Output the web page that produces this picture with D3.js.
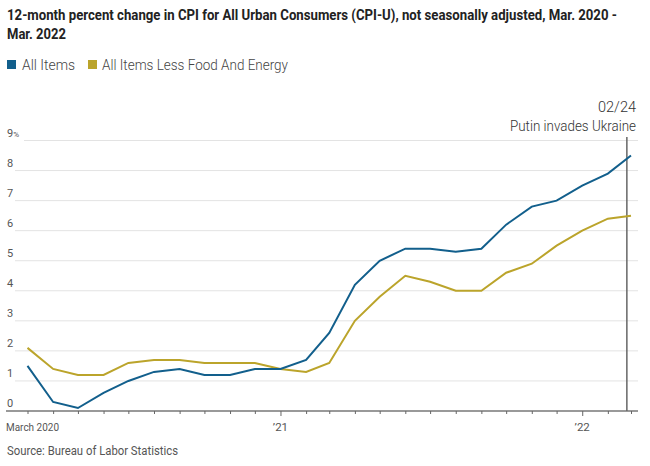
<!DOCTYPE html>
<html><head><meta charset="utf-8">
<script src="https://cdn.jsdelivr.net/npm/d3@7"></script>
<style>
body{margin:0;background:#fff;}
svg{display:block;font-family:"Roboto","Liberation Sans",sans-serif;}
</style></head>
<body><svg id="c" width="650" height="466"></svg>
<script>
const months = ["2020-03","2020-04","2020-05","2020-06","2020-07","2020-08","2020-09","2020-10","2020-11","2020-12",
"2021-01","2021-02","2021-03","2021-04","2021-05","2021-06","2021-07","2021-08","2021-09","2021-10","2021-11","2021-12",
"2022-01","2022-02","2022-03"];
const allItems = [1.5,0.3,0.1,0.6,1.0,1.3,1.4,1.2,1.2,1.4,1.4,1.7,2.6,4.2,5.0,5.4,5.4,5.3,5.4,6.2,6.8,7.0,7.5,7.9,8.5];
const coreItems = [2.1,1.4,1.2,1.2,1.6,1.7,1.7,1.6,1.6,1.6,1.4,1.3,1.6,3.0,3.8,4.5,4.3,4.0,4.0,4.6,4.9,5.5,6.0,6.4,6.5];
const yTicks = [0,1,2,3,4,5,6,7,8,9];
const xLabels = [{m:"2020-03",t:"March 2020"},{m:"2021-01",t:"\u201921"},{m:"2022-01",t:"\u201922"}];
const seriesNames = ["All Items","All Items Less Food And Energy"];
const eventDate = "2022-02-24";
const eventLabel = ["02/24","Putin invades Ukraine"];

const parse = d3.timeParse("%Y-%m");
const dates = months.map(parse);
const svg = d3.select("#c");
const blue = "#125f8c", gold = "#bba42b";

const x = d3.scaleTime().domain([dates[0], dates[dates.length-1]]).range([27.5, 631]);
const y = d3.scaleLinear().domain([0,9]).range([411,140.5]);

function fit(sel, w){ sel.attr("textLength", w).attr("lengthAdjust","spacingAndGlyphs"); return sel; }

// title
fit(svg.append("text").attr("x",7).attr("y",20).attr("font-size",12.8).attr("font-weight","bold").attr("fill","#222")
  .attr("transform","translate(7,20) scale(1,1.12) translate(-7,-20)")
  .text("12-month percent change in CPI for All Urban Consumers (CPI-U), not seasonally adjusted, Mar. 2020 -"), 610);
fit(svg.append("text").attr("x",7).attr("y",39).attr("font-size",12.8).attr("font-weight","bold").attr("fill","#222")
  .attr("transform","translate(7,39) scale(1,1.12) translate(-7,-39)")
  .text("Mar. 2022"), 59);

// legend
const lg = svg.append("g");
const legendX = [[7,22],[88,102]];
const legendW = [53,186];
seriesNames.forEach((n,i)=>{
  lg.append("rect").attr("x",legendX[i][0]).attr("y",60).attr("width",9).attr("height",9).attr("fill",i?gold:blue);
  fit(lg.append("text").attr("x",legendX[i][1]).attr("y",69.5).attr("font-size",14).attr("font-weight",300).attr("fill","#444").text(n), legendW[i]);
});

// grid
const grid = svg.append("g");
yTicks.filter(t=>t>0).forEach(t=>{
  grid.append("line").attr("x1", t===9?24:15).attr("x2",638).attr("y1",y(t)).attr("y2",y(t))
    .attr("stroke","#e3e3e3").attr("stroke-width",1);
});
yTicks.forEach(t=>{
  const tx = grid.append("text").attr("x",7).attr("y",y(t)-4).attr("font-size",11).attr("fill","#555").text(t);
  if(t===9) tx.append("tspan").attr("font-size",8).text("%");
});

// x axis
const ax = svg.append("g").attr("transform","translate(0,411)");
ax.append("line").attr("x1",6).attr("x2",638).attr("stroke","#777").attr("stroke-width",1.5);
const axis = d3.axisBottom(x).tickValues(dates).tickSize(3).tickFormat("");
const axg = ax.append("g").call(axis);
axg.select(".domain").remove();
axg.selectAll(".tick line").attr("stroke","#666").attr("y2",d=>d.getMonth()===0?5:3);
xLabels.forEach((l,i)=>{
  const t = ax.append("text").attr("x", i===0?6:x(parse(l.m))).attr("y",20).attr("font-size",11.5)
    .attr("text-anchor", i===0?"start":"middle").attr("fill","#555").text(l.t);
  if(i===0) fit(t, 53);
});

// source
fit(svg.append("text").attr("x",7).attr("y",455).attr("font-size",12.5).attr("fill","#555").text("Source: Bureau of Labor Statistics"), 171);

// event line
const ex = x(d3.timeParse("%Y-%m-%d")(eventDate));
svg.append("line").attr("x1",ex).attr("x2",ex).attr("y1",137).attr("y2",411).attr("stroke","#666").attr("stroke-width",1.5);
fit(svg.append("text").attr("x",598).attr("y",112).attr("font-size",14.5).attr("font-weight",300).attr("fill","#333").text(eventLabel[0]), 38);
fit(svg.append("text").attr("x",510).attr("y",131).attr("font-size",14.5).attr("font-weight",300).attr("fill","#333").text(eventLabel[1]), 126);

// lines
const line = d3.line().x((d,i)=>x(dates[i])).y(d=>y(d));
svg.append("path").datum(coreItems).attr("d",line).attr("fill","none").attr("stroke",gold).attr("stroke-width",2);
svg.append("path").datum(allItems).attr("d",line).attr("fill","none").attr("stroke",blue).attr("stroke-width",2);
</script></body></html>
